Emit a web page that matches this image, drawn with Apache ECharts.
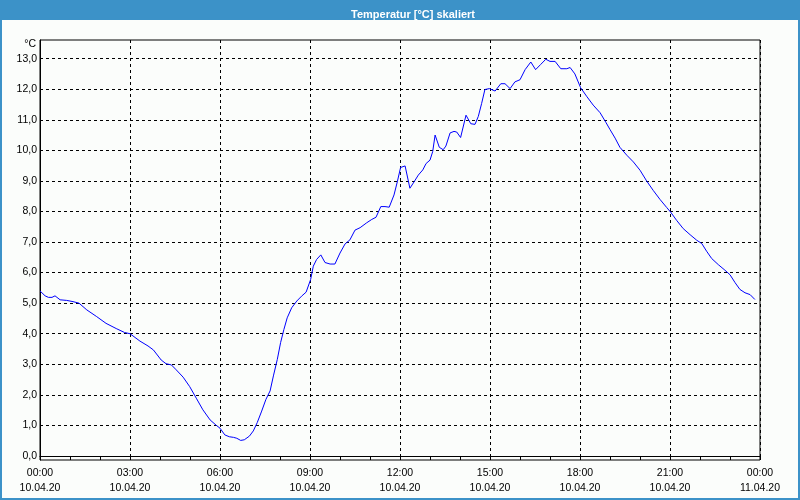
<!DOCTYPE html>
<html><head><meta charset="utf-8">
<script src="https://cdn.jsdelivr.net/npm/echarts@6/dist/echarts.min.js"></script>
<style>html,body{margin:0;padding:0;background:#fff;}#c{width:800px;height:500px;}</style>
</head><body><div id="c"></div>
<script>
// time of day in hours (10.04.20 00:00 = 0)
const hours = [0.0,0.17,0.28,0.4,0.5,0.67,0.89,1.1,1.3,1.56,1.89,2.2,2.54,2.82,3.0,3.33,3.6,3.78,4.04,4.2,4.38,4.54,4.77,4.99,5.21,5.43,5.67,5.88,6.0,6.16,6.31,6.45,6.56,6.69,6.81,6.98,7.11,7.24,7.39,7.53,7.67,7.78,7.91,8.02,8.13,8.24,8.39,8.56,8.72,8.87,9.02,9.11,9.22,9.36,9.5,9.67,9.83,10.0,10.17,10.33,10.5,10.67,10.89,11.06,11.2,11.36,11.5,11.64,11.8,11.91,12.02,12.17,12.33,12.47,12.61,12.76,12.87,13.0,13.09,13.17,13.31,13.44,13.53,13.67,13.8,13.89,14.02,14.2,14.36,14.5,14.61,14.72,14.83,14.98,15.17,15.36,15.5,15.67,15.83,16.0,16.17,16.36,16.52,16.69,16.86,17.0,17.17,17.36,17.56,17.67,17.83,18.02,18.22,18.44,18.67,18.86,19.0,19.17,19.33,19.56,19.78,20.0,20.22,20.44,20.67,20.89,21.02,21.22,21.44,21.67,21.89,22.06,22.22,22.39,22.61,22.83,23.0,23.17,23.33,23.5,23.67,23.83];
const temps = [5.40,5.24,5.19,5.19,5.24,5.11,5.09,5.05,5.0,4.78,4.56,4.34,4.17,4.04,4.0,3.76,3.6,3.47,3.14,3.02,2.98,2.82,2.58,2.27,1.89,1.51,1.18,1.0,0.91,0.69,0.63,0.61,0.58,0.51,0.53,0.65,0.82,1.09,1.47,1.85,2.13,2.62,3.16,3.71,4.14,4.52,4.85,5.07,5.23,5.36,5.77,6.21,6.43,6.58,6.33,6.28,6.28,6.64,6.94,7.07,7.39,7.47,7.63,7.74,7.81,8.16,8.16,8.14,8.54,8.97,9.44,9.49,8.76,8.97,9.19,9.36,9.57,9.68,9.96,10.5,10.1,10.02,10.14,10.57,10.62,10.6,10.42,11.15,10.87,10.85,11.11,11.53,11.99,12.02,11.94,12.18,12.18,12.02,12.24,12.31,12.64,12.89,12.64,12.81,12.98,12.91,12.91,12.67,12.67,12.71,12.5,12.05,11.77,11.48,11.23,10.92,10.68,10.4,10.1,9.84,9.62,9.35,9.0,8.69,8.39,8.13,7.98,7.71,7.44,7.24,7.06,6.95,6.7,6.46,6.26,6.08,5.93,5.67,5.45,5.34,5.28,5.12];
const yTicks = [0,1,2,3,4,5,6,7,8,9,10,11,12,13];
const xTickTimes = ['00:00','03:00','06:00','09:00','12:00','15:00','18:00','21:00','00:00'];
const xTickDates = ['10.04.20','10.04.20','10.04.20','10.04.20','10.04.20','10.04.20','10.04.20','10.04.20','11.04.20'];

const blue = '#3c92c8';
const font = 'Liberation Sans';
const chart = echarts.init(document.getElementById('c'), null, {renderer: 'canvas'});
const dash = {color: '#000', width: 1, type: [3, 3]};
chart.setOption({
  animation: false,
  backgroundColor: '#fbfdfb',
  title: {
    text: 'Temperatur [°C] skaliert',
    left: 408, top: 4, textAlign: 'center',
    textStyle: {color: '#fff', fontSize: 11, fontWeight: 'bold', fontFamily: font}
  },
  graphic: [
    {type: 'rect', z: -1, shape: {x: 0, y: 0, width: 800, height: 20}, style: {fill: blue}},
    {type: 'rect', z: -1, shape: {x: 1, y: 1, width: 798, height: 498}, style: {fill: null, stroke: blue, lineWidth: 2}}
  ],
  grid: {left: 40, right: 40, top: 40, bottom: 40, show: true, borderColor: '#000', borderWidth: 1, backgroundColor: 'transparent'},
  xAxis: {
    type: 'value', min: 0, max: 24, interval: 3,
    axisLine: {show: true, lineStyle: {color: '#000', width: 1}},
    axisTick: {show: true, length: 4, lineStyle: {color: '#000'}},
    minorTick: {show: true, splitNumber: 3, length: 4, lineStyle: {color: '#000'}},
    splitLine: {show: true, lineStyle: dash},
    axisLabel: {
      margin: 6, lineHeight: 15, color: '#000', fontSize: 10.5, fontFamily: font,
      formatter: function (v) { const i = Math.round(v / 3); return xTickTimes[i] + '\n' + xTickDates[i]; }
    }
  },
  yAxis: {
    type: 'value', min: -0.131, max: 13.61,
    name: '°C', nameLocation: 'end', nameGap: -4,
    nameTextStyle: {align: 'right', verticalAlign: 'middle', padding: [0, 4, 0, 0], color: '#000', fontSize: 10.5, fontFamily: font},
    axisLine: {show: true, lineStyle: {color: '#000', width: 1}},
    axisTick: {show: false, customValues: yTicks},
    splitLine: {show: true, lineStyle: dash},
    axisLabel: {
      customValues: yTicks, margin: 3, color: '#000', fontSize: 10.5, fontFamily: font,
      formatter: function (v) { return v.toFixed(1).replace('.', ','); }
    }
  },
  series: [{
    type: 'line',
    data: hours.map((h, i) => [h, temps[i]]),
    showSymbol: false,
    lineStyle: {color: '#0000ff', width: 1},
    itemStyle: {color: '#0000ff'}
  }]
});
</script></body></html>
